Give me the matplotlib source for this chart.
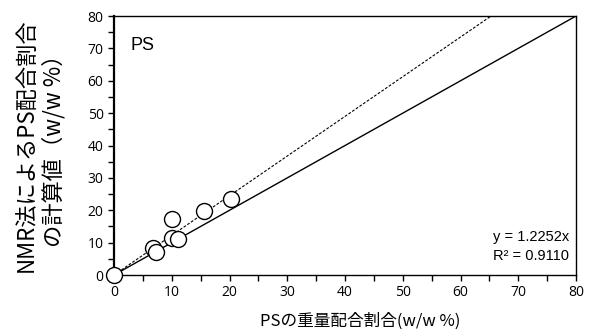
import numpy as np
import matplotlib
matplotlib.use("Agg")
import matplotlib.pyplot as plt
from matplotlib.ticker import MultipleLocator

# data
ps_weight = [0.0, 6.8, 7.3, 10.0, 10.0, 11.0, 15.6, 20.3]
ps_nmr = [0.0, 8.2, 7.2, 17.2, 11.3, 11.1, 19.7, 23.5]
slope = 1.2252
r2 = 0.9110

jp = ["Noto Sans CJK JP", "DejaVu Sans"]

fig = plt.figure(figsize=(5.92, 3.34), dpi=100)
ax = fig.add_axes([0.1926, 0.1766, 0.7804, 0.7754])

# y = x reference line and the fitted line
ref = np.array([0, 80])
ax.plot(ref, ref, color="black", lw=1.0, zorder=1)
fit_x = np.array([0, 80 / slope])
ax.plot(fit_x, slope * fit_x, color="black", lw=0.8, ls=(0, (2.5, 1.5)), zorder=1)

ax.plot(ps_weight, ps_nmr, "o", ms=11.5, mfc="white", mec="black", mew=1.0,
        clip_on=False, zorder=3)

ax.set_xlim(0, 80)
ax.set_ylim(0, 80)
ax.xaxis.set_major_locator(MultipleLocator(10))
ax.yaxis.set_major_locator(MultipleLocator(10))
ax.xaxis.set_minor_locator(MultipleLocator(5))
ax.yaxis.set_minor_locator(MultipleLocator(5))
ax.tick_params(which="both", direction="out", length=4, width=1, labelsize=10)
for lab in ax.get_xticklabels() + ax.get_yticklabels():
    lab.set_family("Open Sans")
for s in ax.spines.values():
    s.set_linewidth(1.0)
ax.spines["left"].set_linewidth(1.6)

ax.text(0.035, 0.885, "PS", transform=ax.transAxes, fontsize=13,
        family="Liberation Sans", va="center")
ax.text(0.985, 0.11, f"y = {slope}x\nR² = {r2:.4f}", transform=ax.transAxes,
        fontsize=10.5, family="Liberation Sans", ha="right", va="center",
        linespacing=1.45)

ax.set_xlabel("PSの重量配合割合(w/w %)", family=jp, fontsize=12, labelpad=1)
ax.xaxis.set_label_coords(0.532, -0.145)
ax.xaxis.label.set_va("top")
ax.set_ylabel("NMR法によるPS配合割合\nの計算値（w/w %）", family=jp,
              fontsize=16, labelpad=16, linespacing=1.15)

fig.savefig("out.png", dpi=100)
